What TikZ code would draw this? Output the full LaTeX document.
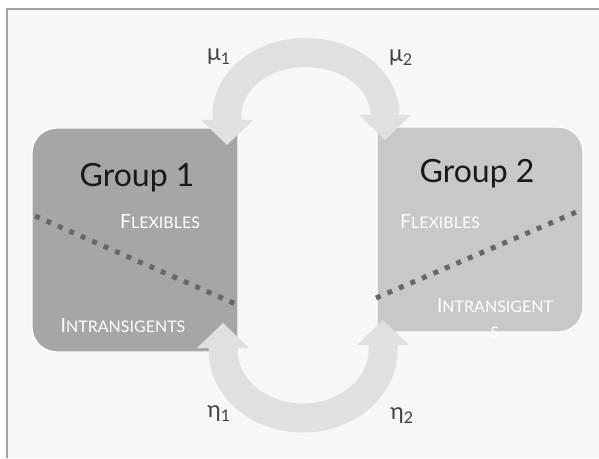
\documentclass[tikz,border=0pt]{standalone}
\usepackage{fontspec}
\setmainfont{Lato}
\usetikzlibrary{arrows.meta,positioning}
\definecolor{panelbg}{HTML}{F7F7F7}
\definecolor{framegray}{HTML}{A3A3A5}
\definecolor{grpone}{HTML}{A5A6A9}
\definecolor{grptwo}{HTML}{C7C8CA}
\definecolor{flowgray}{HTML}{DFE0E2}
\definecolor{dotgray}{HTML}{66676A}
\definecolor{rategray}{HTML}{414141}

\begin{document}
\begin{tikzpicture}[x=1pt, y=1pt,
    group/.style={draw=white, line width=1.2pt},
    flow/.style={draw=flowgray, line width=29pt, {Triangle[width=52pt,length=25pt,line width=0pt]}-{Triangle[width=52pt,length=25pt,line width=0pt]}},
    split/.style={draw=dotgray, line width=5pt, dash pattern=on 5pt off 7.5pt},
    title/.style={anchor=base, inner sep=0pt, text=black!90, font=\fontsize{32}{36}\selectfont},
    kind/.style={anchor=base, inner sep=0pt, text=white, align=center, font=\fontsize{16}{26}\selectfont},
    rate/.style={inner sep=0pt, text=rategray, font=\fontsize{23}{26}\selectfont}
  ]
    \newcommand{\smc}[2]{{\fontsize{19.5}{26}\selectfont #1}{\fontsize{16}{26}\selectfont #2}}
    \useasboundingbox (0,0) rectangle (599,458);
    % panel
    \fill[white] (0,0) rectangle (599,458);
    \fill[panelbg] (7,0) rectangle (599,449);
    \draw[framegray, line width=2pt] (7,0) -- (7,449) -- (599,449);

    % groups
    \filldraw[group, fill=grpone] (238,330) -- (57,330) arc[start angle=90, end angle=180, radius=25]
      -- (32,131) arc[start angle=180, end angle=270, radius=25] -- (238,106) -- cycle;
    \filldraw[group, fill=grptwo] (377,331) -- (558,331) arc[start angle=90, end angle=0, radius=25]
      -- (583,151) arc[start angle=0, end angle=-90, radius=25] -- (377,126) -- cycle;

    % dividers
    \coordinate (d1a) at (35,242);
    \coordinate (d1b) at (238,153);
    \coordinate (d2a) at (376,160);
    \coordinate (d2b) at (581,248);
    \draw[split] (d1a) -- (d1b);
    \draw[split] (d2a) -- (d2b);

    \node[title] (t1) at (137,271) {Group 1};
    \node[title] (t2) at (477,275) {Group 2};
    \node[kind] (flex1) at (160,229) {\smc{F}{LEXIBLES}};
    \node[kind] (intr1) at (123,126) {\smc{I}{NTRANSIGENTS}};
    \node[kind] (flex2) at (440,229) {\smc{F}{LEXIBLES}};
    \node[kind] (intr2) at (495,120) {\smc{I}{NTRANSIGENT}\\\smc{}{S}};

    % flows
    \coordinate (mu1end) at (227,313);
    \coordinate (mu2end) at (385,318);
    \coordinate (eta1end) at (223,135);
    \coordinate (eta2end) at (383,138);
    \draw[flow] (mu1end) -- (227,343) arc[start angle=180, end angle=0, x radius=79, y radius=62.5] -- (mu2end);
    \draw[flow] (eta1end) -- (223,108) arc[start angle=180, end angle=360, x radius=80, y radius=68] -- (eta2end);

    \node[rate] (mu1) at (219,401) {μ\textsubscript{1}};
    \node[rate] (mu2) at (401,400) {μ\textsubscript{2}};
    \node[rate] (eta1) at (219,44) {η\textsubscript{1}};
    \node[rate] (eta2) at (402,42) {η\textsubscript{2}};
  \end{tikzpicture}
\end{document}
